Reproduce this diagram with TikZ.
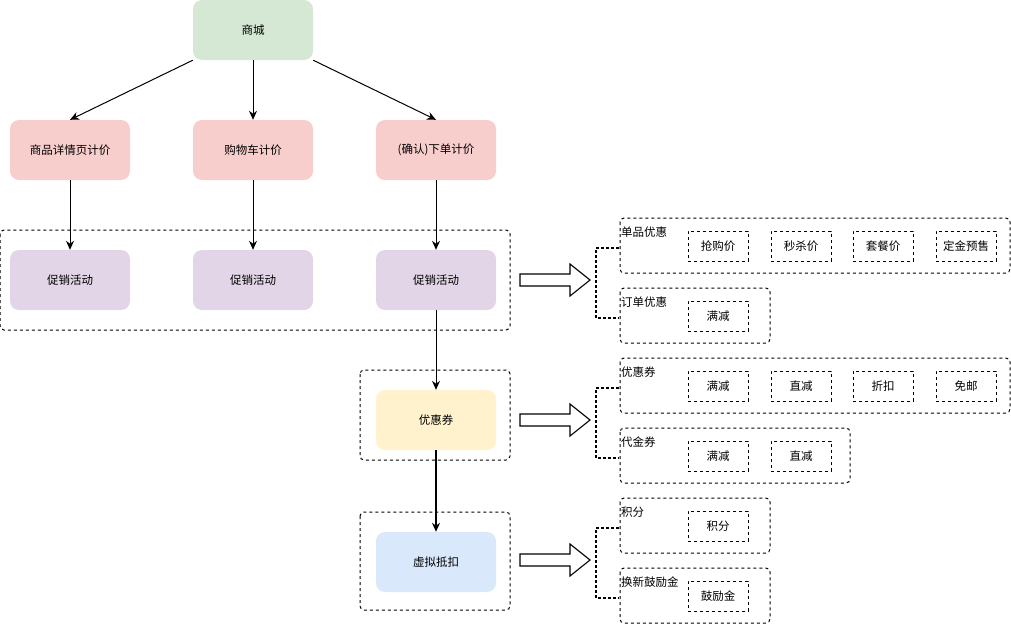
\documentclass[tikz,border=0pt]{standalone}
\usepackage{fontspec}
\newfontfamily\cjk{Noto Sans CJK SC}
\usetikzlibrary{arrows.meta}
\definecolor{cgreen}{HTML}{D5E8D4}
\definecolor{cpink}{HTML}{F8CECC}
\definecolor{cpurple}{HTML}{E1D5E7}
\definecolor{cyellow}{HTML}{FFF2CC}
\definecolor{cblue}{HTML}{DAE8FC}
\begin{document}
\begin{tikzpicture}[x=1pt,y=-1pt,
  every node/.style={font=\cjk\fontsize{11.5}{13}\selectfont, text=black},
  colbox/.style={rounded corners=9pt, minimum width=120pt, minimum height=60pt, inner sep=0pt, draw=none},
  cont/.style={draw, dash pattern=on 3pt off 3pt, rounded corners=4pt, line width=1pt},
  inbox/.style={draw, dash pattern=on 3pt off 3pt, minimum width=60pt, minimum height=30pt, inner sep=0pt, line width=1pt},
  grplabel/.style={anchor=west, inner sep=1pt},
  arr/.style={-{Stealth[length=9pt,width=8pt]}, line width=1pt},
  brk/.style={line width=1.5pt, dash pattern=on 3pt off 2pt},
  blockarr/.style={draw, line width=1.1pt, fill=white}
]
\useasboundingbox (0,0) rectangle (1011,624);

% containers
\draw[cont] (0,230) rectangle (510,330);
\draw[cont] (360,370) rectangle (510,460);
\draw[cont] (360,512) rectangle (510,610);

% nodes
\node[colbox, fill=cgreen] (sc) at (253,30) {商城};
\node[colbox, fill=cpink] (p1) at (70,150) {商品详情页计价};
\node[colbox, fill=cpink] (p2) at (253,150) {购物车计价};
\node[colbox, fill=cpink] (p3) at (436,150) {(确认)下单计价};
\node[colbox, fill=cpurple] (c1) at (70,280) {促销活动};
\node[colbox, fill=cpurple] (c2) at (253,280) {促销活动};
\node[colbox, fill=cpurple] (c3) at (436,280) {促销活动};
\node[colbox, fill=cyellow] (yh) at (436,420) {优惠券};
\node[colbox, fill=cblue] (xn) at (436,562) {虚拟抵扣};

% connectors
\draw[arr] (sc.south west) -- (p1.north);
\draw[arr] (sc.south) -- (p2.north);
\draw[arr] (sc.south east) -- (p3.north);
\draw[arr] (p1) -- (c1);
\draw[arr] (p2) -- (c2);
\draw[arr] (p3) -- (c3);
\draw[arr] (c3) -- (yh);
\draw[arr, line width=1.6pt] (yh) -- (xn);

% block arrows
\foreach \yy in {280,420,560}{
  \draw[blockarr] (520,\yy-6) -- (570,\yy-6) -- (570,\yy-16) -- (590,\yy) -- (570,\yy+16) -- (570,\yy+6) -- (520,\yy+6) -- cycle;
}

% brackets
\foreach \ya/\yb in {248/318, 388/458, 528/598}{
  \draw[brk] (619,\ya) -- (596,\ya) -- (596,\yb) -- (619,\yb);
}

% group 1
\draw[cont] (620,218) rectangle (1010,273);
\node[grplabel] (g1) at (620,232) {单品优惠};
\node[inbox] (g1a) at (718,246) {抢购价};
\node[inbox] (g1b) at (801,246) {秒杀价};
\node[inbox] (g1c) at (883,246) {套餐价};
\node[inbox] (g1d) at (966,246) {定金预售};

\draw[cont] (620,288) rectangle (770,343);
\node[grplabel] (g2) at (620,302) {订单优惠};
\node[inbox] (g2a) at (718,316) {满减};

% group 2
\draw[cont] (620,358) rectangle (1010,413);
\node[grplabel] (g3) at (620,372) {优惠券};
\node[inbox] (g3a) at (718,386) {满减};
\node[inbox] (g3b) at (801,386) {直减};
\node[inbox] (g3c) at (883,386) {折扣};
\node[inbox] (g3d) at (966,386) {免邮};

\draw[cont] (620,428) rectangle (850,483);
\node[grplabel] (g4) at (620,442) {代金券};
\node[inbox] (g4a) at (718,456) {满减};
\node[inbox] (g4b) at (801,456) {直减};

% group 3
\draw[cont] (620,498) rectangle (770,553);
\node[grplabel] (g5) at (620,512) {积分};
\node[inbox] (g5a) at (718,526) {积分};

\draw[cont] (620,568) rectangle (770,623);
\node[grplabel] (g6) at (620,582) {换新鼓励金};
\node[inbox] (g6a) at (718,596) {鼓励金};
\end{tikzpicture}
\end{document}
